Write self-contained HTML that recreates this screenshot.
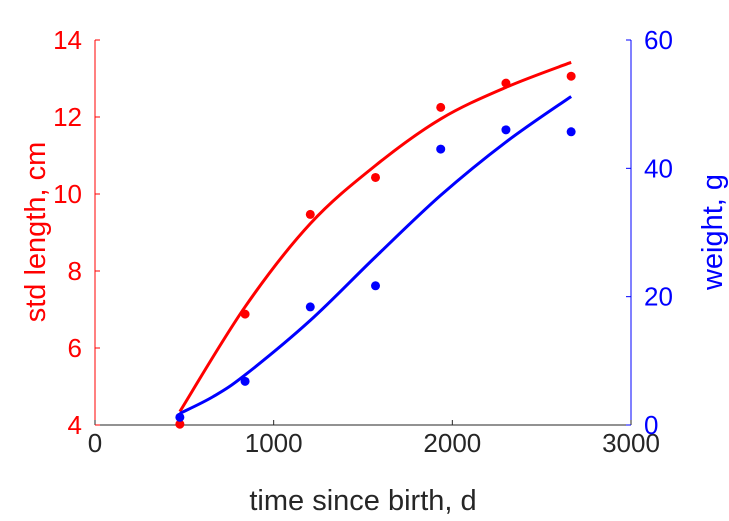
<!DOCTYPE html>
<html><head><meta charset="utf-8"><style>
html,body{margin:0;padding:0;background:#fff}
svg{display:block;font-family:"Liberation Sans",Arial,sans-serif}
</style></head><body>
<svg id="chart" width="729" height="521" viewBox="0 0 729 521" xmlns="http://www.w3.org/2000/svg"></svg>
<script>
const timeDays = [475, 840, 1205, 1570, 1935, 2300, 2665];
const lengthValues = [4.02, 6.88, 9.47, 10.43, 12.25, 12.88, 13.06];
const weightValues = [1.2, 6.8, 18.4, 21.7, 43.0, 46.0, 45.7];
const lengthFitTimes = [475, 840, 1205, 1570, 1935, 2300, 2665];
const lengthFit = [4.35, 7.07, 9.23, 10.74, 11.95, 12.77, 13.42];
const weightFitTimes = [475, 660, 840, 1205, 1570, 1935, 2300, 2665];
const weightFit = [1.8, 4.4, 7.8, 16.3, 26.2, 35.8, 44.1, 51.2];
const xTicks = [0, 1000, 2000, 3000];
const leftTicks = [4, 6, 8, 10, 12, 14];
const rightTicks = [0, 20, 40, 60];

const NS = "http://www.w3.org/2000/svg";
const svg = document.getElementById('chart');
const X0 = 95, X1 = 631, Y0 = 425, Y1 = 40;
const xs = t => X0 + t / 3000 * (X1 - X0);
const yl = v => Y0 - (v - 4) / 10 * (Y0 - Y1);
const yr = v => Y0 - v / 60 * (Y0 - Y1);
function mk(tag, attrs) {
  const e = document.createElementNS(NS, tag);
  for (const k in attrs) e.setAttribute(k, attrs[k]);
  svg.appendChild(e);
  return e;
}
function smoothPath(pts) {
  let d = `M${pts[0][0]},${pts[0][1]}`;
  for (let i = 0; i < pts.length - 1; i++) {
    const p0 = pts[Math.max(0, i - 1)], p1 = pts[i], p2 = pts[i + 1], p3 = pts[Math.min(pts.length - 1, i + 2)];
    const c1 = [p1[0] + (p2[0] - p0[0]) / 6, p1[1] + (p2[1] - p0[1]) / 6];
    const c2 = [p2[0] - (p3[0] - p1[0]) / 6, p2[1] - (p3[1] - p1[1]) / 6];
    d += ` C${c1[0]},${c1[1]} ${c2[0]},${c2[1]} ${p2[0]},${p2[1]}`;
  }
  return d;
}
let e;
e = mk('line', {x1: X0, y1: Y0, x2: X1, y2: Y0, stroke: '#262626', 'stroke-width': 1});


e = mk('line', {x1: X0, y1: Y0, x2: X0, y2: Y1, stroke: '#ff0000', 'stroke-width': 1});


e = mk('line', {x1: X1, y1: Y0, x2: X1, y2: Y1, stroke: '#0000ff', 'stroke-width': 1});


xTicks.forEach(t => {
  const x = xs(t);
  const l = mk('line', {x1: x, y1: Y0, x2: x, y2: Y0 - 5, stroke: '#262626'});
  
  
  const tx = mk('text', {x: x, y: 452, 'text-anchor': 'middle', 'font-size': 26, fill: '#262626'});
  tx.textContent = t;
  
  
});
leftTicks.forEach(v => {
  const y = yl(v);
  const l = mk('line', {x1: X0, y1: y, x2: X0 + 5, y2: y, stroke: '#ff0000'});
  
  
  const tx = mk('text', {x: 82, y: y + 9, 'text-anchor': 'end', 'font-size': 26, fill: '#ff0000'});
  tx.textContent = v;
  
  
});
rightTicks.forEach(v => {
  const y = yr(v);
  const l = mk('line', {x1: X1, y1: y, x2: X1 - 5, y2: y, stroke: '#0000ff'});
  
  
  const tx = mk('text', {x: 644, y: y + 9, 'text-anchor': 'start', 'font-size': 26, fill: '#0000ff'});
  tx.textContent = v;
  
  
});
e = mk('text', {x: 363, y: 510, 'text-anchor': 'middle', 'font-size': 29, fill: '#262626'});
e.textContent = 'time since birth, d';


e = mk('text', {x: 0, y: 0, 'text-anchor': 'middle', 'font-size': 29, fill: '#ff0000', transform: 'translate(45,232) rotate(-90)'});
e.textContent = 'std length, cm';


e = mk('text', {x: 0, y: 0, 'text-anchor': 'middle', 'font-size': 29, fill: '#0000ff', transform: 'translate(722,232) rotate(-90)'});
e.textContent = 'weight, g';


e = mk('path', {d: smoothPath(lengthFitTimes.map((t, i) => [xs(t), yl(lengthFit[i])])), fill: 'none', stroke: '#ff0000', 'stroke-width': 3});


e = mk('path', {d: smoothPath(weightFitTimes.map((t, i) => [xs(t), yr(weightFit[i])])), fill: 'none', stroke: '#0000ff', 'stroke-width': 3});


timeDays.forEach((t, i) => {
  const c = mk('circle', {cx: xs(t), cy: yl(lengthValues[i]), r: 4.5, fill: '#ff0000'});
  
  
});
timeDays.forEach((t, i) => {
  const c = mk('circle', {cx: xs(t), cy: yr(weightValues[i]), r: 4.5, fill: '#0000ff'});
  
  
});
</script>
</body></html>
